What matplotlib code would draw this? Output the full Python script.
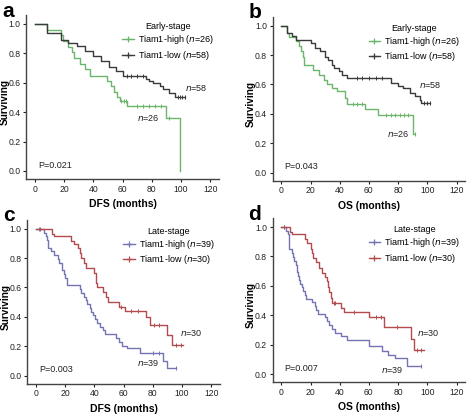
import numpy as np
import matplotlib
matplotlib.use("Agg")
import matplotlib.pyplot as plt
from matplotlib.lines import Line2D

plt.rcParams['font.family'] = ['Liberation Sans', 'DejaVu Sans']

## panel a : early-stage DFS ##
a_high_t = [0, 8.5, 17.5, 19.5, 22.5, 25, 27, 30.5, 34, 38, 49.5, 52, 54, 56, 58, 63, 90, 99]
a_high_s = [1.0, 0.962, 0.923, 0.885, 0.846, 0.808, 0.769, 0.731, 0.692, 0.648, 0.61, 0.575, 0.54, 0.505, 0.475, 0.44, 0.36, 0.0]
a_high_c = [59, 61, 62, 70, 74, 78, 82, 86, 92]
a_low_t = [0, 8.5, 18, 22.5, 28.5, 34, 39.5, 45.5, 51, 55.5, 60, 76.3, 78, 81, 85.5, 88, 92, 95.6, 102.5]
a_low_s = [1.0, 0.939, 0.893, 0.87, 0.85, 0.814, 0.78, 0.746, 0.71, 0.678, 0.648, 0.625, 0.61, 0.6, 0.58, 0.555, 0.53, 0.503, 0.503]
a_low_c = [63, 66, 70, 74, 98, 99.5, 101, 102.5]

## panel b : early-stage OS ##
b_high_t = [0, 3.7, 5.5, 10, 12.4, 13.5, 14.7, 15.8, 21.5, 25.5, 29, 31, 34.5, 38, 43.7, 45, 57, 66, 90.2, 91.5]
b_high_s = [1.0, 0.95, 0.925, 0.894, 0.86, 0.826, 0.79, 0.735, 0.70, 0.665, 0.63, 0.60, 0.576, 0.553, 0.508, 0.47, 0.435, 0.395, 0.265, 0.265]
b_high_c = [49, 52, 55, 72, 75, 78, 81, 84, 87, 91.5]
b_low_t = [0, 3.7, 7, 10, 20.5, 22.8, 26.5, 29.8, 32, 34.5, 36, 39.4, 41.7, 45, 75.3, 80, 83.5, 88, 91.5, 94.8, 96, 102]
b_low_s = [1.0, 0.95, 0.93, 0.905, 0.88, 0.85, 0.83, 0.79, 0.77, 0.735, 0.71, 0.69, 0.665, 0.644, 0.61, 0.59, 0.575, 0.542, 0.52, 0.497, 0.474, 0.474]
b_low_c = [52, 55, 60, 65, 69, 98, 100, 102]

## panel c : late-stage DFS ##
c_high_t = [0, 5.5, 7, 7.5, 8, 8.5, 10, 12, 15, 16, 17.5, 18, 19, 20, 21, 21.5, 30, 31, 33, 34, 35,
            37, 38, 39, 40.5, 42, 44, 46, 47, 55, 57, 59, 62, 71, 87, 90, 96]
c_high_s = [1.0, 0.974, 0.949, 0.923, 0.897, 0.872, 0.846, 0.821, 0.795, 0.769, 0.744, 0.718, 0.692, 0.667, 0.641, 0.615,
            0.59, 0.564, 0.538, 0.513, 0.487, 0.462, 0.436, 0.41, 0.385, 0.359, 0.333, 0.308, 0.282, 0.256, 0.231, 0.205,
            0.19, 0.155, 0.10, 0.05, 0.05]
c_high_c = [2, 80, 84, 96]
c_low_t = [0, 11, 12, 24, 26, 29, 30, 31, 33, 34, 40, 41, 42, 46, 48, 49, 57, 61, 75, 78, 90, 93, 101]
c_low_s = [1.0, 0.967, 0.95, 0.917, 0.893, 0.867, 0.833, 0.80, 0.767, 0.733, 0.70, 0.633, 0.60, 0.567, 0.533, 0.50, 0.467, 0.44, 0.40, 0.345, 0.28, 0.21, 0.21]
c_low_c = [3, 58, 65, 70, 81, 84, 96, 99]

## panel d : late-stage OS ##
d_high_t = [0, 3, 4.5, 5, 5.5, 7, 8, 9, 10, 11, 11.5, 12, 13, 14, 15, 16, 17, 21, 23, 24, 25, 30, 31,
            33, 35, 37, 41, 45, 60, 69, 73, 78, 86, 96]
d_high_s = [1.0, 0.974, 0.949, 0.90, 0.85, 0.82, 0.795, 0.769, 0.744, 0.692, 0.667, 0.641, 0.615, 0.59, 0.564, 0.538,
            0.513, 0.487, 0.462, 0.436, 0.41, 0.385, 0.359, 0.333, 0.308, 0.282, 0.256, 0.231, 0.19, 0.155, 0.13, 0.11, 0.055, 0.055]
d_high_c = [2, 96]
d_low_t = [0, 6, 7, 16, 17.5, 20, 21, 22, 24, 26, 28, 30, 31, 32, 33, 34, 35, 41, 43, 60, 70, 89, 91, 98]
d_low_s = [1.0, 0.967, 0.95, 0.917, 0.89, 0.85, 0.82, 0.79, 0.76, 0.72, 0.69, 0.66, 0.63, 0.59, 0.56, 0.52, 0.48, 0.45, 0.42, 0.39, 0.32, 0.24, 0.16, 0.16]
d_low_c = [2, 36, 37, 50, 65, 68, 79, 93, 96]

green = '#6cb56c'
dark = '#3a3a3a'
blue = '#7474b4'
red = '#b24a4e'

# (letter, xlabel, P text, stage, x0 px of t=0, y px of S=1.0, curves, n-label positions)
panels = [
    ('a', 'DFS (months)', 'P=0.021', 'Early-stage', 35, 24,
     [(a_high_t, a_high_s, a_high_c, green, 'Tiam1-high (', '26'),
      (a_low_t, a_low_s, a_low_c, dark, 'Tiam1-low (', '58')],
     [(137, 118, '26'), (185, 88, '58')]),
    ('b', 'OS (months)', 'P=0.043', 'Early-stage', 281.3, 25.7,
     [(b_high_t, b_high_s, b_high_c, green, 'Tiam1-high (', '26'),
      (b_low_t, b_low_s, b_low_c, dark, 'Tiam1-low (', '58')],
     [(387, 134, '26'), (419, 85, '58')]),
    ('c', 'DFS (months)', 'P=0.003', 'Late-stage', 36, 228.7,
     [(c_high_t, c_high_s, c_high_c, blue, 'Tiam1-high (', '39'),
      (c_low_t, c_low_s, c_low_c, red, 'Tiam1-low (', '30')],
     [(137, 363, '39'), (180, 333, '30')]),
    ('d', 'OS (months)', 'P=0.007', 'Late-stage', 281.3, 227,
     [(d_high_t, d_high_s, d_high_c, blue, 'Tiam1-high (', '39'),
      (d_low_t, d_low_s, d_low_c, red, 'Tiam1-low (', '30')],
     [(381, 370, '39'), (417, 333, '30')]),
]

W, H = 472, 417
sx, sy = 1.46, 147.0
xlim = (-6, 126)
ylim = (-0.055, 1.06)

fig = plt.figure(figsize=(W / 100, H / 100), dpi=100)

for letter, xlab, ptxt, stage, x0, y1, curves, nlabs in panels:
    left = x0 + xlim[0] * sx
    width = (xlim[1] - xlim[0]) * sx
    top = y1 - (ylim[1] - 1.0) * sy
    height = (ylim[1] - ylim[0]) * sy
    ax = fig.add_axes([left / W, 1 - (top + height) / H, width / W, height / H])
    ax.set_xlim(xlim)
    ax.set_ylim(ylim)
    for sp in ['top', 'right']:
        ax.spines[sp].set_visible(False)
    for sp in ['left', 'bottom']:
        ax.spines[sp].set_color('#444444')
        ax.spines[sp].set_linewidth(1.0)
    ax.set_xticks([0, 20, 40, 60, 80, 100, 120])
    ax.set_yticks([0.0, 0.2, 0.4, 0.6, 0.8, 1.0])
    ax.set_yticklabels(['0.0', '0.2', '0.4', '0.6', '0.8', '1.0'])
    ax.tick_params(labelsize=6.2, length=2.5, width=0.8, pad=1.5, colors='#222222')
    ax.set_xlabel(xlab, fontsize=7.5, fontweight='bold', labelpad=4)
    ax.set_ylabel('Surviving', fontsize=7.2, fontweight='bold')
    ax.yaxis.set_label_coords(-16.5 / width, 0.47)

    handles = []
    labels = []
    for t, s, cens, col, lab, n in curves:
        ax.plot(t, s, drawstyle='steps-post', color=col, lw=1.0)
        idx = np.searchsorted(t, cens, side='right') - 1
        cy = np.array(s)[idx]
        ax.plot(cens, cy, ls='none', marker='|', ms=3.5, mew=0.7, color=col)
        handles.append(Line2D([], [], color=col, lw=1.0, marker='+', ms=5, mew=0.9))
        labels.append(lab + r'$\it{n}$=' + n + ')')

    leg = ax.legend(handles, labels, title=stage, frameon=False, fontsize=6.5,
                    title_fontsize=6.5, loc='upper right', bbox_to_anchor=(1.0, 0.99),
                    handlelength=1.3, handletextpad=0.4, borderaxespad=0.2,
                    labelspacing=0.25)
    ax.text(2, 0.04, ptxt, fontsize=6.5, color='#222222', va='center')
    for px, py, n in nlabs:
        fig.text(px / W, 1 - py / H, r'$\it{n}$=' + n, fontsize=6.5, va='center', color='#222222')
    fig.text((left - 24) / W, 1 - (top - 4) / H, letter, fontsize=15, fontweight='bold', va='center')

fig.savefig('out.png', dpi=100)
